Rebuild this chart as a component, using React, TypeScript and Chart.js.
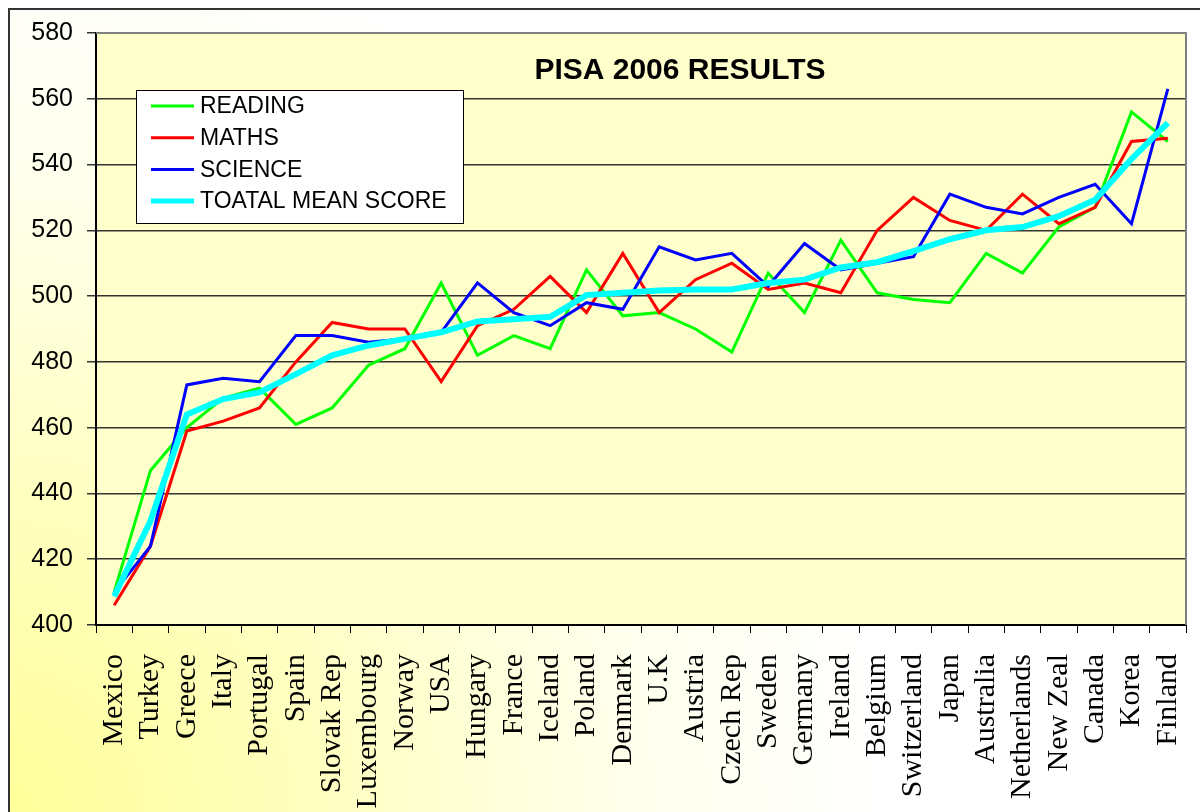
import React, { useEffect, useRef } from "react";
import { Chart, registerables } from "chart.js";

Chart.register(...registerables);

const countries = ["Mexico", "Turkey", "Greece", "Italy", "Portugal", "Spain", "Slovak Rep", "Luxembourg", "Norway", "USA", "Hungary", "France", "Iceland", "Poland", "Denmark", "U.K", "Austria", "Czech Rep", "Sweden", "Germany", "Ireland", "Belgium", "Switzerland", "Japan", "Australia", "Netherlands", "New Zeal", "Canada", "Korea", "Finland"];

const reading = [410, 447, 460, 469, 472, 461, 466, 479, 484, 504, 482, 488, 484, 508, 494, 495, 490, 483, 507, 495, 517, 501, 499, 498, 513, 507, 521, 527, 556, 547];
const maths = [406, 424, 459, 462, 466, 480, 492, 490, 490, 474, 491, 496, 506, 495, 513, 495, 505, 510, 502, 504, 501, 520, 530, 523, 520, 531, 522, 527, 547, 548];
const science = [410, 424, 473, 475, 474, 488, 488, 486, 487, 489, 504, 495, 491, 498, 496, 515, 511, 513, 503, 516, 508, 510, 512, 531, 527, 525, 530, 534, 522, 563];
const totalMean = [408.7, 431.7, 464, 468.7, 470.7, 476.3, 482, 485, 487, 489, 492.3, 493, 493.7, 500.3, 501, 501.7, 502, 502, 504, 505, 508.7, 510.3, 513.7, 517.3, 520, 521, 524.3, 529.3, 541.7, 552.7];

const seriesNames = ["READING", "MATHS", "SCIENCE", "TOATAL MEAN SCORE"];
const seriesColors = ["#00FF00", "#FF0000", "#0000FF", "#00FFFF"];
const chartTitle = "PISA 2006 RESULTS";

const SANS = "'Liberation Sans', Arial, sans-serif";
const SERIF = "'Liberation Serif', 'Times New Roman', serif";

const decorPlugin = {
  id: "decor",
  beforeDraw(chart: any) {
    const { ctx, width, height, chartArea } = chart;
    ctx.save();
    ctx.fillStyle = "#FFFFFF";
    ctx.fillRect(0, 0, width, height);
    const g = ctx.createRadialGradient(0, height, 0, 0, height, 1050);
    g.addColorStop(0, "#FFFF99");
    g.addColorStop(0.3, "#FFFFC0");
    g.addColorStop(0.6, "#FFFFEC");
    g.addColorStop(0.85, "#FFFFFF");
    g.addColorStop(1, "#FFFFFF");
    ctx.fillStyle = g;
    ctx.fillRect(9, 9, width - 9, height - 9);
    ctx.strokeStyle = "#333333";
    ctx.lineWidth = 2;
    ctx.beginPath();
    ctx.moveTo(9, height);
    ctx.lineTo(9, 9);
    ctx.lineTo(width, 9);
    ctx.stroke();
    ctx.fillStyle = "#FFFFCC";
    ctx.fillRect(chartArea.left, chartArea.top, chartArea.right - chartArea.left, chartArea.bottom - chartArea.top);
    ctx.restore();
  },
  beforeDatasetsDraw(chart: any) {
    const { ctx, chartArea } = chart;
    ctx.save();
    ctx.strokeStyle = "#808080";
    ctx.lineWidth = 2;
    ctx.beginPath();
    ctx.moveTo(chartArea.left, chartArea.top);
    ctx.lineTo(chartArea.right, chartArea.top);
    ctx.lineTo(chartArea.right, chartArea.bottom);
    ctx.stroke();
    ctx.restore();
  },
  afterDatasetsDraw(chart: any) {
    const { ctx, chartArea } = chart;
    ctx.save();
    // title
    ctx.fillStyle = "#000";
    ctx.font = `bold 30px ${SANS}`;
    ctx.textAlign = "center";
    ctx.textBaseline = "middle";
    ctx.fillText(chartTitle, (chartArea.left + chartArea.right) / 2 + 39, chartArea.top + 38);
    // legend
    const bx = chartArea.left + 40;
    const by = chartArea.top + 57;
    const bw = 327;
    const bh = 133;
    ctx.fillStyle = "#FFFFFF";
    ctx.fillRect(bx, by, bw, bh);
    ctx.strokeStyle = "#000";
    ctx.lineWidth = 1;
    ctx.strokeRect(bx + 0.5, by + 0.5, bw, bh);
    ctx.font = `23px ${SANS}`;
    ctx.textAlign = "left";
    chart.data.datasets.forEach((ds: any, i: number) => {
      const y = by + 16 + i * 31.7;
      ctx.strokeStyle = ds.borderColor;
      ctx.lineWidth = i === 3 ? 5 : 3;
      ctx.beginPath();
      ctx.moveTo(bx + 15, y);
      ctx.lineTo(bx + 58, y);
      ctx.stroke();
      ctx.fillStyle = "#000";
      ctx.fillText(ds.label, bx + 64, y + 1);
    });
    ctx.restore();
  },
};

export default function App() {
  const ref = useRef<HTMLCanvasElement>(null);
  useEffect(() => {
    document.body.style.margin = "0";
    const seriesData = [reading, maths, science, totalMean];
    const chart = new Chart(ref.current as HTMLCanvasElement, {
      type: "line",
      data: {
        labels: countries,
        datasets: seriesData.map((d, i) => ({
          label: seriesNames[i],
          data: d,
          borderColor: seriesColors[i],
          backgroundColor: seriesColors[i],
          borderWidth: i === 3 ? 6 : 3,
          pointRadius: 0,
          tension: 0,
          fill: false,
          order: 3 - i,
        })),
      },
      options: {
        responsive: false,
        animation: false,
        devicePixelRatio: 1,
        layout: { padding: { top: 33, right: 14, left: 0, bottom: 0 } },
        plugins: {
          legend: { display: false },
          title: { display: false },
          tooltip: { enabled: false },
        },
        scales: {
          x: {
            type: "category",
            offset: true,
            afterFit(scale: any) {
              scale.height = 187;
              scale.paddingLeft = 0;
              scale.paddingRight = 0;
            },
            grid: {
              display: true,
              drawOnChartArea: false,
              drawTicks: true,
              tickLength: 8,
              offset: true,
              color: "#000",
              lineWidth: 1,
            },
            border: { display: true, color: "#000", width: 2 },
            ticks: {
              autoSkip: false,
              maxRotation: 90,
              minRotation: 90,
              padding: 21,
              color: "#000",
              font: { family: SERIF, size: 30 },
            },
          },
          y: {
            min: 400,
            max: 580,
            afterFit(scale: any) {
              scale.width = 96;
              scale.paddingTop = 0;
              scale.paddingBottom = 0;
            },
            grid: {
              color: "#333333",
              lineWidth: 1.5,
              tickLength: 9,
            },
            border: { display: true, color: "#000", width: 2 },
            ticks: {
              stepSize: 20,
              padding: 14,
              color: "#000",
              font: { family: SANS, size: 25 },
            },
          },
        },
      },
      plugins: [decorPlugin],
    } as any);
    return () => chart.destroy();
  }, []);
  return (
    <div style={{ width: 1200, height: 812 }}>
      <canvas ref={ref} width={1200} height={812} style={{ display: "block" }} />
    </div>
  );
}
